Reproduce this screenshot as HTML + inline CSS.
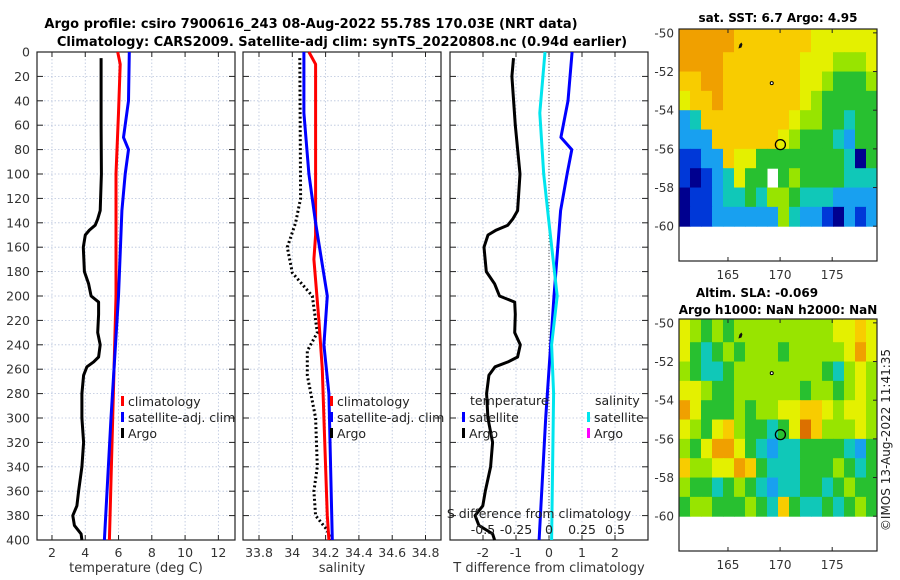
<!DOCTYPE html>
<html><head><meta charset="utf-8"><style>
body{margin:0;background:#fff;}
svg{display:block;font-family:"DejaVu Sans","Liberation Sans",sans-serif;}
</style></head><body>
<svg id="fig" width="900" height="580" viewBox="0 0 900 580" xmlns="http://www.w3.org/2000/svg">
<text x="311" y="28" text-anchor="middle" font-size="13" font-weight="bold">Argo profile: csiro 7900616_243 08-Aug-2022 55.78S 170.03E (NRT data)</text>
<text x="342" y="46" text-anchor="middle" font-size="13" font-weight="bold">Climatology: CARS2009. Satellite-adj clim: synTS_20220808.nc (0.94d earlier)</text>
<text x="778" y="22" text-anchor="middle" font-size="12" font-weight="bold">sat. SST: 6.7 Argo: 4.95</text>
<text x="757" y="297" text-anchor="middle" font-size="12" font-weight="bold">Altim. SLA: -0.069</text>
<text x="778" y="314" text-anchor="middle" font-size="12" font-weight="bold">Argo h1000: NaN h2000: NaN</text>
<text transform="translate(890,440) rotate(-90)" text-anchor="middle" font-size="12" fill="#222">©IMOS 13-Aug-2022 11:41:35</text>
<g id="plots"></g>
</svg>
<script>
// ---- profile data ----
const argoTDepth=[5,20,60,100,130,137,142,146,150,160,180,190,200,205,215,230,240,250,254,258,265,280,300,320,340,360,372,380,388,395,400];
const argoT=[4.95,4.95,4.95,4.97,4.9,4.75,4.6,4.25,4.0,3.88,3.95,4.2,4.35,4.8,4.8,4.75,4.9,4.8,4.5,4.1,3.9,3.8,3.8,3.9,3.8,3.6,3.5,3.25,3.35,3.75,3.8];
const climTDepth=[0,10,50,100,200,300,400];
const climT=[5.95,6.1,6.0,5.85,5.85,5.65,5.45];
const satTDepth=[0,40,70,80,100,130,200,300,400];
const satT=[6.65,6.6,6.3,6.6,6.4,6.2,6.0,5.55,5.15];
const argoSDepth=[5,120,140,160,181,200,230,245,265,300,340,360,380,392,400];
const argoS=[34.045,34.05,34.02,33.97,34.0,34.12,34.15,34.09,34.09,34.14,34.15,34.13,34.14,34.21,34.23];
const climSDepth=[0,10,50,150,170,220,260,300,380,400];
const climS=[34.1,34.14,34.14,34.14,34.13,34.16,34.18,34.19,34.21,34.22];
const satSDepth=[0,50,100,140,200,240,280,400];
const satS=[34.07,34.07,34.1,34.14,34.21,34.19,34.22,34.24];
const depthTicks=[0,20,40,60,80,100,120,140,160,180,200,220,240,260,280,300,320,340,360,380,400];
const tTicks=[2,4,6,8,10,12];
const sTicks=[33.8,34,34.2,34.4,34.6,34.8];
const dTTicks=[-2,-1,0,1,2];
const dSTicks=[-0.5,-0.25,0,0.25,0.5];
const dSLabels=["-0.5","-0.25","0","0.25","0.5"];
// ---- map data (rows lat -50..-60, cols lon west->east) ----
const sstGrid=[
[8,8,8,8,8,7,7,7,7,7,7,7,6,6,6,6,6,6],
[8,8,8,8,7,7,7,7,7,7,7,6,6,6,5,5,5,6],
[7,7,8,8,7,7,7,7,7,7,7,6,6,5,4,4,4,5],
[6,7,7,8,7,7,7,7,7,7,7,6,5,4,4,4,4,4],
[2,3,7,7,7,7,7,7,7,7,6,5,5,4,4,3,4,4],
[2,2,2,7,7,7,7,7,7,6,5,4,4,4,3,2,4,4],
[1,1,2,2,7,6,6,4,4,4,4,4,4,4,4,3,0,4],
[1,0,1,2,3,6,4,4,-1,4,5,4,4,4,4,3,3,3],
[0,1,1,2,3,3,4,3,5,5,4,3,3,3,2,2,2,2],
[0,1,1,2,2,2,2,2,2,5,3,2,2,1,0,2,1,2]];
const slaGrid=[
[6,5,4,5,4,5,5,5,5,5,5,5,5,5,6,6,7,6],
[6,4,3,4,5,4,5,5,5,4,5,5,5,5,5,6,8,6],
[5,4,3,3,4,5,5,5,5,5,5,5,5,4,3,5,6,5],
[6,6,5,4,4,5,5,5,5,5,5,4,5,5,4,5,6,5],
[8,6,4,4,4,5,4,5,5,6,6,7,7,6,5,6,6,5],
[6,5,4,6,7,5,4,4,3,4,6,9,7,5,5,5,6,5],
[5,4,6,8,8,6,4,3,2,3,3,4,4,4,4,3,2,4],
[7,5,5,6,6,8,7,4,3,3,3,4,4,4,5,4,3,4],
[5,4,4,3,4,5,4,3,2,3,3,4,4,3,4,5,4,4],
[4,5,5,4,4,4,5,4,3,7,4,3,3,4,3,4,5,4]];
const latTicks=[-50,-52,-54,-56,-58,-60];
const lonTicks=[165,170,175];
const floatLon=170.03, floatLat=-55.78;

const NS='http://www.w3.org/2000/svg';
const root=document.getElementById('plots');
function mk(tag,attrs,parent){const e=document.createElementNS(NS,tag);for(const k in attrs)e.setAttribute(k,attrs[k]);(parent||root).appendChild(e);return e;}
function interp(ds,vs,d){if(d<=ds[0])return vs[0];for(let i=1;i<ds.length;i++){if(d<=ds[i]){const f=(d-ds[i-1])/(ds[i]-ds[i-1]);return vs[i-1]+f*(vs[i]-vs[i-1]);}}return vs[vs.length-1];}
const Y0=52,Y1=540;
const yD=d=>Y0+(d/400)*(Y1-Y0);
function panel(name,x0,x1,vmin,vmax,ticks,labels,xlabel){
  const g=mk('g',{});
  
  
  const xs=v=>x0+(v-vmin)/(vmax-vmin)*(x1-x0);
  ticks.forEach((t,i)=>{const x=xs(t);
    const l=mk('line',{x1:x,x2:x,y1:Y0,y2:Y1,stroke:'#b8c4dc','stroke-width':0.8,'stroke-dasharray':'1.5,2'},g);
    
    mk('line',{x1:x,x2:x,y1:Y1,y2:Y1-5,stroke:'#222'},g);mk('line',{x1:x,x2:x,y1:Y0,y2:Y0+5,stroke:'#222'},g);
    const tx=mk('text',{x:x,y:Y1+17,'text-anchor':'middle','font-size':12.5,fill:'#333'},g);tx.textContent=labels?labels[i]:t;
    });
  depthTicks.forEach(d=>{const y=yD(d);
    if(d>0&&d<400){const l=mk('line',{x1:x0,x2:x1,y1:y,y2:y,stroke:'#b8c4dc','stroke-width':0.8,'stroke-dasharray':'1.5,2'},g);
    }
    mk('line',{x1:x0,x2:x0+6,y1:y,y2:y,stroke:'#222'},g);mk('line',{x1:x1,x2:x1-6,y1:y,y2:y,stroke:'#222'},g);});
  const r=mk('rect',{x:x0,y:Y0,width:x1-x0,height:Y1-Y0,fill:'none',stroke:'#222','stroke-width':1.2},g);
  
  const xl=mk('text',{x:(x0+x1)/2,y:572,'text-anchor':'middle','font-size':13,fill:'#333'},g);xl.textContent=xlabel;
  
  return {g,xs};
}
function line(p,ds,vs,color,w,dash,name){
  const pts=ds.map((d,i)=>p.xs(vs[i]).toFixed(1)+','+yD(d).toFixed(1)).join(' ');
  const pl=mk('polyline',{points:pts,fill:'none',stroke:color,'stroke-width':w,'stroke-linejoin':'round'},p.g);
  if(dash)pl.setAttribute('stroke-dasharray',dash);
  
  
}
function legend(g,x,y,items){
  items.forEach((it,i)=>{const yy=y+i*16;
    mk('rect',{x:x,y:yy-9,width:3,height:10,fill:it[1]},g);
    const t=mk('text',{x:x+7,y:yy+1,'font-size':12.5,fill:'#222'},g);t.textContent=it[0];
    });
}
// y labels
depthTicks.forEach(d=>{const t=mk('text',{x:30,y:yD(d)+4.5,'text-anchor':'end','font-size':12.5,fill:'#333'});t.textContent=d;
  });
// panel 1
const p1=panel('temperature-panel',37,235,1.1,13.0,tTicks,null,'temperature (deg C)');
line(p1,argoTDepth,argoT,'#000',3,null,'argo-temperature-line');
line(p1,climTDepth,climT,'#f00',3,null,'climatology-temperature-line');
line(p1,satTDepth,satT,'#00f',3,null,'satellite-temperature-line');
legend(p1.g,121,405,[['climatology','#f00'],['satellite-adj. clim','#00f'],['Argo','#000']]);
// panel 2
const p2=panel('salinity-panel',243,441,33.704,34.893,sTicks,null,'salinity');
line(p2,argoSDepth,argoS,'#000',3,'2,2.5','argo-salinity-line');
line(p2,climSDepth,climS,'#f00',3,null,'climatology-salinity-line');
line(p2,satSDepth,satS,'#00f',3,null,'satellite-salinity-line');
legend(p2.g,330,405,[['climatology','#f00'],['satellite-adj. clim','#00f'],['Argo','#000']]);
// panel 3
const p3=panel('difference-panel',450,648,-3,3,dTTicks,null,'T difference from climatology');
mk('line',{x1:p3.xs(0),x2:p3.xs(0),y1:Y0,y2:Y1,stroke:'#555','stroke-width':1,'stroke-dasharray':'1,2'},p3.g);
const dTsat=satTDepth.map(d=>interp(satTDepth,satT,d)-interp(climTDepth,climT,d));
const dTargo=argoTDepth.map(d=>interp(argoTDepth,argoT,d)-interp(climTDepth,climT,d));
const dSsat=satSDepth.map(d=>4*(interp(satSDepth,satS,d)-interp(climSDepth,climS,d)));
line(p3,argoTDepth,dTargo,'#000',3,null,'argo-t-diff-line');
line(p3,satTDepth,dTsat,'#00f',3,null,'satellite-t-diff-line');
line(p3,satSDepth,dSsat,'#00e5ee',3,null,'satellite-s-diff-line');
{const t=mk('text',{x:470,y:405,'font-size':12.5,fill:'#222'},p3.g);t.textContent='temperature';
 const s=mk('text',{x:595,y:405,'font-size':12.5,fill:'#222'},p3.g);s.textContent='salinity';}
legend(p3.g,462,421,[['satellite','#00f'],['Argo','#000']]);
legend(p3.g,587,421,[['satellite','#00e5ee'],['Argo','#f0f']]);
{const t=mk('text',{x:539,y:518,'text-anchor':'middle','font-size':12.5,fill:'#222'},p3.g);t.textContent='S difference from climatology';
 
 dSTicks.forEach((v,i)=>{const tt=mk('text',{x:p3.xs(v*4),y:534,'text-anchor':'middle','font-size':12.5,fill:'#222'},p3.g);tt.textContent=dSLabels[i];
 });}
// maps
const cmap=['#00008f','#0038d8','#18a0f0','#10c8b8','#28c030','#98e400','#e4f000','#f8cc00','#f0a000','#dc7000'];
function map(name,grid,top,bot){
  const x0=679,x1=877,lonMin=160.3,lonMax=179.3;
  const latTop=-49.8,latBot=-61.8;
  const xs=l=>x0+(l-lonMin)/(lonMax-lonMin)*(x1-x0);
  const ys=l=>top+(latTop-l)/(latTop-latBot)*(bot-top);
  const g=mk('g',{});
  
  
  const nr=grid.length,nc=grid[0].length;
  for(let r=0;r<nr;r++)for(let c=0;c<nc;c++){
    const v=grid[r][c];if(v<0)continue;
    const la0=r===0?latTop:-50-r, la1=-50-(r+1);
    const lo0=lonMin+c*(lonMax-lonMin)/nc, lo1=lonMin+(c+1)*(lonMax-lonMin)/nc;
    const cell=mk('rect',{x:xs(lo0),y:ys(la0),width:xs(lo1)-xs(lo0)+0.5,height:ys(la1)-ys(la0)+0.5,fill:cmap[v]},g);
    
    
  }
  mk('path',{d:`M${xs(166.1)} ${ys(-50.6)} l2 -2 l1 2 l-1 3 l-3 1 z`,fill:'#111'},g);
  mk('circle',{cx:xs(169.2),cy:ys(-52.6),r:1.5,fill:'#fff',stroke:'#000'},g);
  const fc=mk('circle',{cx:xs(floatLon),cy:ys(floatLat),r:5,fill:'none',stroke:'#000','stroke-width':1.3},g);
  
  mk('rect',{x:x0,y:top,width:x1-x0,height:bot-top,fill:'none',stroke:'#222','stroke-width':1.2},g);
  latTicks.forEach(l=>{const y=ys(l);mk('line',{x1:x1,x2:x1-4,y1:y,y2:y,stroke:'#222'},g);
    const t=mk('text',{x:x0-5,y:y+4.5,'text-anchor':'end','font-size':12,fill:'#333'},g);t.textContent=l;
    });
  lonTicks.forEach(l=>{const x=xs(l);mk('line',{x1:x,x2:x,y1:top,y2:top+4,stroke:'#222'},g);mk('line',{x1:x,x2:x,y1:bot,y2:bot-4,stroke:'#222'},g);
    const t=mk('text',{x:x,y:bot+18,'text-anchor':'middle','font-size':12,fill:'#333'},g);t.textContent=l;
    });
}
map('sst-map',sstGrid,29,261);
map('sla-map',slaGrid,319,551);
</script>
</body></html>
